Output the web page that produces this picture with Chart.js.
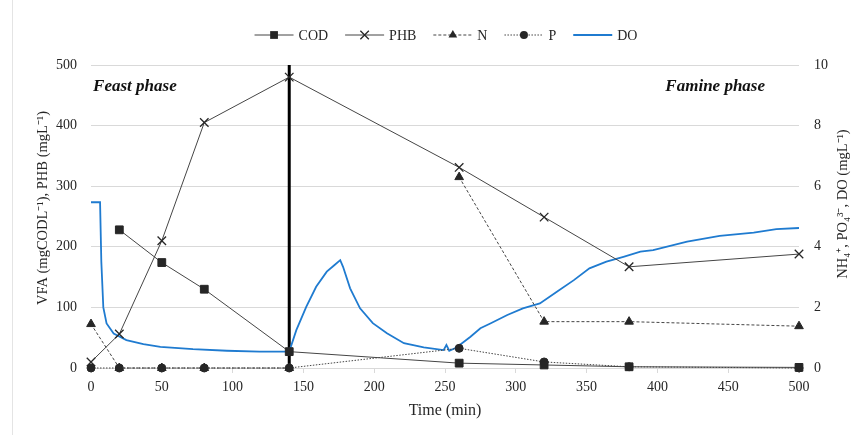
<!DOCTYPE html>
<html>
<head>
<meta charset="utf-8">
<script src="https://cdn.jsdelivr.net/npm/chart.js@4.4.1/dist/chart.umd.min.js"></script>
<style>
  html, body { margin: 0; padding: 0; background: #fff; }
  #wrap { position: relative; width: 860px; height: 435px; }
  #wrap::before { content: ''; position: absolute; left: 12px; top: 0; bottom: 0; border-left: 1px solid #e4e4e4; }
  canvas { display: block; }
</style>
</head>
<body>
<div id="wrap"><canvas id="chart" width="860" height="435"></canvas></div>
<script>
// sampled series (x = time in min)
const sampleTimes = [0, 20, 50, 80, 140, 260, 320, 380, 500];
const codValues = [null, 228, 174, 130, 27, 8, 5, 2, 1];
const phbValues = [10, 56, 210, 405, 480, 331, 249, 167, 188];
const nValues = [1.45, 0, 0, 0, 0, 6.3, 1.53, 1.53, 1.38];
const pValues = [0, 0, 0, 0, 0, 0.65, 0.2, 0.04, 0];

// dissolved oxygen probe trace
const doTimes = [0, 6.4, 7.3, 8.7, 11, 16, 25, 37, 49, 72, 96, 119, 140,
  145, 152, 159, 166.5, 172, 176, 178, 183, 190, 199, 209, 221, 235, 249,
  251, 253, 257, 262, 268, 275, 282, 294, 305, 317, 329, 341, 352, 364,
  376, 388, 397, 421, 444, 468, 484, 500];
const doValues = [5.47, 5.47, 3.5, 2.0, 1.47, 1.14, 0.92, 0.79, 0.70, 0.62, 0.57, 0.54, 0.54,
  1.25, 2.02, 2.68, 3.18, 3.40, 3.56, 3.34, 2.63, 1.97, 1.48, 1.15, 0.82, 0.68, 0.59,
  0.76, 0.57, 0.65, 0.82, 1.03, 1.31, 1.47, 1.75, 1.97, 2.13, 2.52, 2.90, 3.29, 3.51,
  3.67, 3.84, 3.89, 4.17, 4.36, 4.47, 4.58, 4.62];

// feast / famine boundary
const phaseTimes = [140, 140];
const phaseLevels = [0, 500];

// axis ticks
const xTicks = [0, 50, 100, 150, 200, 250, 300, 350, 400, 450, 500];
const leftTicks = [0, 100, 200, 300, 400, 500];
const rightTicks = [0, 2, 4, 6, 8, 10];

const FONT = '"Liberation Serif", "Times New Roman", serif';
const INK = '#262626';

const pts = (xs, ys) => xs.map((x, i) => ({ x: x, y: ys[i] }));

function drawMarker(ctx, style, r, x, y) {
  ctx.beginPath();
  if (style === 'rect') {
    const s = r * Math.SQRT1_2;
    ctx.rect(x - s, y - s, 2 * s, 2 * s);
    ctx.fill();
  } else if (style === 'triangle') {
    ctx.moveTo(x, y - r);
    ctx.lineTo(x + r * 0.866, y + r * 0.5);
    ctx.lineTo(x - r * 0.866, y + r * 0.5);
    ctx.closePath();
    ctx.fill();
  } else if (style === 'circle') {
    ctx.arc(x, y, r, 0, Math.PI * 2);
    ctx.fill();
  } else if (style === 'crossRot') {
    const s = r * Math.SQRT1_2;
    ctx.moveTo(x - s, y - s); ctx.lineTo(x + s, y + s);
    ctx.moveTo(x - s, y + s); ctx.lineTo(x + s, y - s);
    ctx.stroke();
  }
}

// legend with a line sample and marker, like the original figure
const lineLegend = {
  id: 'lineLegend',
  afterDraw(chart) {
    const ctx = chart.ctx;
    const items = chart.data.datasets.filter(d => !d.noLegend);
    const sampleW = 39, gapText = 5, gapItem = 17, y = 35;
    ctx.save();
    ctx.font = '14px ' + FONT;
    const widths = items.map(d => sampleW + gapText + ctx.measureText(d.label).width);
    const total = widths.reduce((a, b) => a + b, 0) + gapItem * (items.length - 1);
    let x = 446 - total / 2;
    items.forEach((d, i) => {
      ctx.strokeStyle = d.borderColor;
      ctx.lineWidth = d.borderWidth;
      ctx.setLineDash(d.borderDash || []);
      ctx.beginPath();
      ctx.moveTo(x, y); ctx.lineTo(x + sampleW, y);
      ctx.stroke();
      ctx.setLineDash([]);
      if (d.pointRadius > 0) {
        ctx.fillStyle = INK;
        ctx.strokeStyle = INK;
        ctx.lineWidth = d.pointBorderWidth || 1;
        drawMarker(ctx, d.pointStyle, d.pointRadius, x + sampleW / 2, y);
      }
      ctx.fillStyle = INK;
      ctx.textBaseline = 'middle';
      ctx.textAlign = 'left';
      ctx.fillText(d.label, x + sampleW + gapText, y + 1);
      x += widths[i] + gapItem;
    });
    ctx.restore();
  }
};

// phase labels and the two axis titles
const extras = {
  id: 'extras',
  afterDraw(chart) {
    const ctx = chart.ctx;
    const xs = chart.scales.x, ys = chart.scales.y;
    ctx.save();
    ctx.fillStyle = '#111';
    ctx.font = 'italic bold 17px ' + FONT;
    ctx.textBaseline = 'alphabetic';
    ctx.textAlign = 'left';
    ctx.fillText('Feast phase', xs.getPixelForValue(1.5), ys.getPixelForValue(457));
    ctx.textAlign = 'right';
    ctx.fillText('Famine phase', xs.getPixelForValue(476), ys.getPixelForValue(457));
    ctx.restore();

    ctx.save();
    ctx.font = '14.5px ' + FONT;
    ctx.fillStyle = INK;
    ctx.textAlign = 'center';
    ctx.textBaseline = 'middle';
    ctx.translate(43, 208);
    ctx.rotate(-Math.PI / 2);
    ctx.fillText('VFA (mgCODL\u207B\u00B9), PHB (mgL\u207B\u00B9)', 0, 0);
    ctx.restore();

    ctx.save();
    ctx.font = '14.5px ' + FONT;
    ctx.fillStyle = INK;
    ctx.textAlign = 'center';
    ctx.textBaseline = 'middle';
    ctx.translate(843, 204);
    ctx.rotate(-Math.PI / 2);
    ctx.fillText('NH\u2084\u207A, PO\u2084\u00B3\u207B, DO (mgL\u207B\u00B9)', 0, 0);
    ctx.restore();
  }
};

new Chart(document.getElementById('chart'), {
  type: 'line',
  data: {
    datasets: [
      {
        label: 'COD',
        data: pts(sampleTimes, codValues),
        yAxisID: 'y',
        borderColor: '#454545',
        borderWidth: 1,
        pointStyle: 'rect',
        pointRadius: 5.5,
        pointBorderWidth: 1,
        pointBackgroundColor: INK,
        pointBorderColor: INK
      },
      {
        label: 'PHB',
        data: pts(sampleTimes, phbValues),
        yAxisID: 'y',
        borderColor: '#454545',
        borderWidth: 1,
        pointStyle: 'crossRot',
        pointRadius: 6,
        pointBorderWidth: 1.3,
        pointBackgroundColor: INK,
        pointBorderColor: INK
      },
      {
        label: 'N',
        data: pts(sampleTimes, nValues),
        yAxisID: 'y1',
        borderColor: '#454545',
        borderWidth: 1,
        borderDash: [3, 2],
        // no connecting line across the unsampled 140-260 min stretch
        segment: { borderColor: c => (c.p0.parsed.x === 140 ? 'rgba(0,0,0,0)' : undefined) },
        pointStyle: 'triangle',
        pointRadius: 5,
        pointBorderWidth: 1,
        pointBackgroundColor: INK,
        pointBorderColor: INK
      },
      {
        label: 'P',
        data: pts(sampleTimes, pValues),
        yAxisID: 'y1',
        borderColor: '#454545',
        borderWidth: 1,
        borderDash: [1.5, 1.5],
        pointStyle: 'circle',
        pointRadius: 4,
        pointBorderWidth: 1,
        pointBackgroundColor: INK,
        pointBorderColor: INK
      },
      {
        label: 'DO',
        data: pts(doTimes, doValues),
        yAxisID: 'y1',
        borderColor: '#1f7bd0',
        borderWidth: 1.8,
        pointRadius: 0
      },
      {
        label: 'phase',
        noLegend: true,
        data: pts(phaseTimes, phaseLevels),
        yAxisID: 'y',
        borderColor: '#000',
        borderWidth: 3,
        pointRadius: 0
      }
    ]
  },
  options: {
    responsive: false,
    animation: false,
    datasets: { line: { clip: false } },
    layout: { padding: { top: 65, left: 0, right: 0, bottom: 0 } },
    plugins: {
      legend: { display: false },
      tooltip: { enabled: false }
    },
    scales: {
      x: {
        type: 'linear',
        min: 0,
        max: 500,
        afterBuildTicks: (s) => { s.ticks = xTicks.map(v => ({ value: v })); },
        afterFit: (s) => { s.height = 67; },
        grid: { drawOnChartArea: false, drawTicks: true, tickLength: 5, color: '#d9d9d9' },
        border: { color: '#d9d9d9' },
        ticks: { font: { family: FONT, size: 14 }, color: INK, padding: 6, maxRotation: 0 },
        title: {
          display: true,
          text: 'Time (min)',
          font: { family: FONT, size: 16 },
          color: INK,
          padding: { top: 0, bottom: 15 }
        }
      },
      y: {
        position: 'left',
        min: 0,
        max: 500,
        afterBuildTicks: (s) => { s.ticks = leftTicks.map(v => ({ value: v })); },
        afterFit: (s) => { s.width = 91; },
        grid: { color: '#d9d9d9', drawTicks: false },
        border: { display: false },
        ticks: { font: { family: FONT, size: 14 }, color: INK, padding: 14 }
      },
      y1: {
        position: 'right',
        min: 0,
        max: 10,
        afterBuildTicks: (s) => { s.ticks = rightTicks.map(v => ({ value: v })); },
        afterFit: (s) => { s.width = 61; },
        grid: { display: false, drawTicks: false },
        border: { display: false },
        ticks: { font: { family: FONT, size: 14 }, color: INK, padding: 15 }
      }
    }
  },
  plugins: [lineLegend, extras]
});
</script>
</body>
</html>
